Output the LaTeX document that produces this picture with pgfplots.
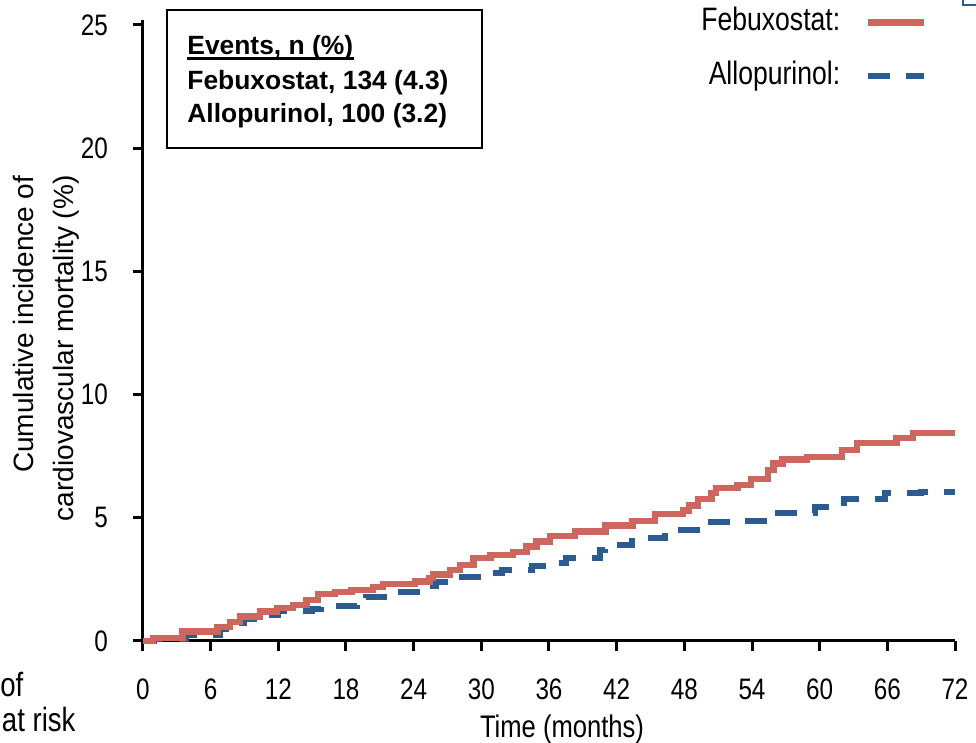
\documentclass[border=0pt]{standalone}
\usepackage{pgfplots}
\pgfplotsset{compat=1.18}
\usepackage{fontspec}
\setmainfont{Liberation Sans}
\newfontfamily\narrow{Liberation Sans}[FakeStretch=0.82]
\definecolor{febred}{RGB}{207,102,94}
\definecolor{alloblue}{RGB}{42,91,145}

\pgfplotstableread{
x y
0 0
0.9 0.13
3.5 0.38
6.6 0.57
7.7 0.78
8.6 0.99
10.4 1.2
11.9 1.33
13.3 1.46
14.5 1.66
15.5 1.9
17 1.98
18.5 2.07
20.4 2.18
21.3 2.31
24.1 2.41
25.4 2.55
25.7 2.7
27.2 2.88
28.1 3.08
29.3 3.38
30.8 3.49
32.8 3.62
34 3.83
34.9 4.03
36.1 4.26
38.3 4.44
41 4.68
43.4 4.87
45.4 5.15
47.9 5.3
48.4 5.5
49.2 5.76
50.4 6.0
50.8 6.2
52.7 6.33
53.9 6.57
55.4 6.94
55.9 7.21
56.7 7.37
58.9 7.47
62 7.75
63.3 8.04
66.8 8.24
68.3 8.44
72 8.44
}\febdata

\pgfplotstableread{
x y
0 0
1 0.08
3.8 0.25
6.8 0.5
8 0.75
9 0.9
10.5 1.05
12 1.23
15 1.3
15.8 1.42
19 1.65
19.8 1.8
22 2.0
25.3 2.25
26 2.4
28.3 2.61
31.3 2.75
31.8 2.88
34.5 3.04
36.1 3.15
37.5 3.35
40.5 3.7
41 3.9
43.4 4.18
46.3 4.5
49.4 4.84
53 4.87
56 5.19
59.6 5.44
62.2 5.76
65.8 6.0
69 6.05
72 6.05
}\allodata

\begin{document}
\begin{tikzpicture}
\path[use as bounding box] (0,0) rectangle (488pt,371.5pt);
\begin{axis}[
  scale only axis, width=406pt, height=308pt,
  at={(71.5pt,51pt)}, anchor=south west,
  xmin=0, xmax=72, ymin=0, ymax=25,
  clip=false,
  axis x line*=bottom, axis y line*=left,
  axis line style={line width=1.5pt, -},
  y axis line style={shorten >=-2.5pt},
  xtick={0,6,...,72}, ytick={0,5,...,25},
  tick align=outside, major tick length=5pt,
  tick style={line width=1.5pt, black},
  /pgf/number format/assume math mode=true,
  ticklabel style={font=\narrow\fontsize{14.8}{16}\selectfont},
  xticklabel style={yshift=-10.5pt},
  yticklabel style={xshift=-9pt},
  xlabel={Time (months)},
  xlabel style={font=\narrow\fontsize{15.6}{18}\selectfont, at={(axis description cs:0.516,0)}, anchor=base, yshift=-48.5pt},
  ylabel={Cumulative incidence of\\cardiovascular mortality (\%)},
  ylabel style={font=\fontsize{14}{20}\selectfont, align=right, at={(axis description cs:-0.119,0.767)}, anchor=east},
  legend plot pos=right, reverse legend,
  legend cell align=right,
  legend style={draw=none, fill=none, at={(axis description cs:1,1)}, anchor=north east,
    xshift=-13.5pt, yshift=9.5pt, font=\narrow\fontsize{16.2}{18}\selectfont,
    row sep=11pt, column sep=12.5pt, inner sep=0pt,
    nodes={text height=12pt, text depth=4pt, inner sep=0pt}},
  legend image code/.code={\draw[#1] (0pt,0pt) -- (28pt,0pt);},
]
\addplot[alloblue, line width=3pt, dash pattern=on 11pt off 8pt, const plot] table {\allodata};
\addlegendentry{Allopurinol:}
\addplot[febred, line width=3.2pt, const plot] table {\febdata};
\addlegendentry{Febuxostat:}
\end{axis}
\draw[line width=1pt] (83.5pt,366.5pt) rectangle (241pt,297.5pt);
\node[font=\bfseries\fontsize{13.2}{15}\selectfont, anchor=base west, inner sep=0pt] (ev) at (93.5pt,344pt) {Events, n (\%)};
\draw[line width=1.3pt] ([yshift=-1.7pt]ev.base west) -- ([yshift=-1.7pt]ev.base east);
\node[font=\bfseries\fontsize{13.2}{15}\selectfont, anchor=base west, inner sep=0pt] at (93.5pt,326.5pt) {Febuxostat, 134 (4.3)};
\node[font=\bfseries\fontsize{13.2}{15}\selectfont, anchor=base west, inner sep=0pt] at (93.5pt,310pt) {Allopurinol, 100 (3.2)};
\node[font=\narrow\fontsize{16.8}{18}\selectfont, anchor=base west, inner sep=0pt] at (0pt,23pt) {of};
\node[font=\narrow\fontsize{16.8}{18}\selectfont, anchor=base west, inner sep=0pt] at (0.8pt,5.5pt) {at risk};
\draw[alloblue, line width=1pt] (481.5pt,373pt) -- (481.5pt,369pt) -- (490pt,369pt);
\end{tikzpicture}
\end{document}
